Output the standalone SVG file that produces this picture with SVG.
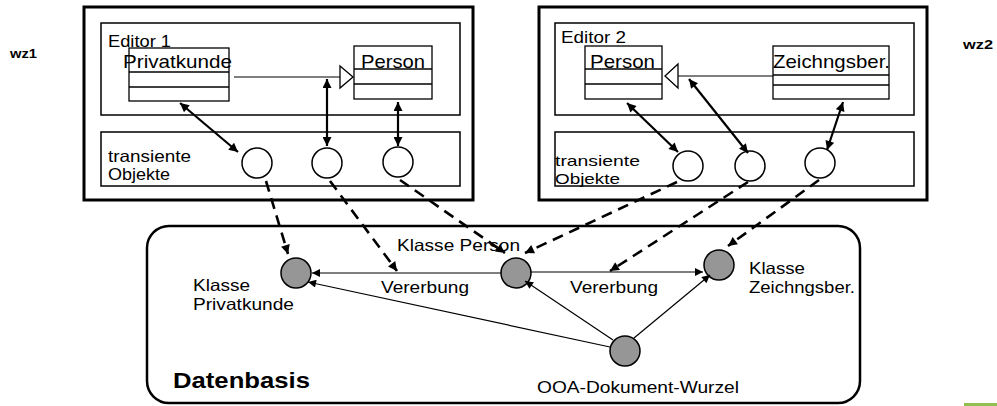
<svg xmlns="http://www.w3.org/2000/svg" width="997" height="406" viewBox="0 0 997 406">
<style>
text{font-family:"Liberation Sans",Arial,sans-serif;fill:#000}
.lbl{font-size:16.5px}
.sm{font-size:15px}
.cls{font-size:19px}
.b{font-weight:bold}
.outer{fill:none;stroke:#000;stroke-width:3}
.box{fill:none;stroke:#000;stroke-width:1.5}
.cbox{fill:none;stroke:#000;stroke-width:1.3}
.tobj{fill:#fff;stroke:#000;stroke-width:1.5}
.node{fill:#969696;stroke:#000;stroke-width:1.5}
.dbl{stroke:#000;stroke-width:2.2;fill:none;marker-start:url(#ah);marker-end:url(#ah)}
.dash{stroke:#000;stroke-width:2.6;fill:none;stroke-dasharray:11 7;marker-end:url(#ah)}
.thin{stroke:#000;stroke-width:1.2;fill:none;marker-end:url(#ahs)}
.inh{stroke:#000;stroke-width:1.2;fill:none}
.tri{fill:#fff;stroke:#000;stroke-width:1.3}
</style>
<defs>
<marker id="ah" viewBox="0 0 10 10" refX="10" refY="5" markerWidth="11" markerHeight="9" markerUnits="userSpaceOnUse" orient="auto-start-reverse">
<path d="M0,0 L10,5 L0,10 z" fill="#000"/>
</marker>
<marker id="ahs" viewBox="0 0 10 10" refX="10" refY="5" markerWidth="10" markerHeight="8" markerUnits="userSpaceOnUse" orient="auto">
<path d="M0,0 L10,5 L0,10 z" fill="#000"/>
</marker>
</defs>
<rect width="997" height="406" fill="#fff"/>

<text class="b" x="10" y="58" font-size="13.5" textLength="27" lengthAdjust="spacingAndGlyphs">wz1</text>
<text class="b" x="963" y="49" font-size="13.5" textLength="30" lengthAdjust="spacingAndGlyphs">wz2</text>

<g id="wz1">
<rect class="outer" x="84" y="7" width="389" height="193"/>
<g id="editor1">
<rect class="box" x="101" y="23" width="359" height="92"/>
<text class="lbl" x="108" y="47" textLength="63" lengthAdjust="spacingAndGlyphs">Editor 1</text>
</g>
<g id="e1-privatkunde">
<rect class="cbox" x="129" y="48" width="100" height="53"/>
<line class="cbox" x1="129" y1="72" x2="229" y2="72"/>
<line class="cbox" x1="129" y1="87" x2="229" y2="87"/>
<text class="cls" x="123" y="68" textLength="109" lengthAdjust="spacingAndGlyphs">Privatkunde</text>
</g>
<g id="e1-person">
<rect class="cbox" x="354" y="46" width="78" height="53"/>
<line class="cbox" x1="354" y1="69" x2="432" y2="69"/>
<line class="cbox" x1="354" y1="84" x2="432" y2="84"/>
<text class="cls" x="361" y="68" textLength="64" lengthAdjust="spacingAndGlyphs">Person</text>
</g>
<g id="transient1">
<rect class="box" x="101" y="132" width="359" height="54"/>
<text class="lbl" x="108" y="162" textLength="83" lengthAdjust="spacingAndGlyphs">transiente</text>
<text class="lbl" x="108" y="180" textLength="62" lengthAdjust="spacingAndGlyphs">Objekte</text>
</g>
<g id="t1a"><circle class="tobj" cx="257" cy="163" r="15"/></g>
<g id="t1b"><circle class="tobj" cx="327" cy="163" r="15"/></g>
<g id="t1c"><circle class="tobj" cx="398" cy="162" r="15"/></g>
</g>

<g id="wz2">
<rect class="outer" x="539" y="7" width="388" height="193"/>
<g id="editor2">
<rect class="box" x="555" y="23" width="359" height="92"/>
<text class="lbl" x="561" y="43" textLength="65" lengthAdjust="spacingAndGlyphs">Editor 2</text>
</g>
<g id="e2-person">
<rect class="cbox" x="585" y="46" width="77" height="53"/>
<line class="cbox" x1="585" y1="69" x2="662" y2="69"/>
<line class="cbox" x1="585" y1="84" x2="662" y2="84"/>
<text class="cls" x="590" y="68" textLength="65" lengthAdjust="spacingAndGlyphs">Person</text>
</g>
<g id="e2-zeichngsber">
<rect class="cbox" x="773" y="46" width="116" height="53"/>
<line class="cbox" x1="773" y1="75" x2="889" y2="75"/>
<line class="cbox" x1="773" y1="85" x2="889" y2="85"/>
<text class="cls" x="773" y="68" textLength="117" lengthAdjust="spacingAndGlyphs">Zeichngsber.</text>
</g>
<g id="transient2">
<rect class="box" x="555" y="132" width="359" height="54"/>
<text class="sm" x="555" y="166" textLength="85" lengthAdjust="spacingAndGlyphs">transiente</text>
<text class="sm" x="555" y="184" textLength="65" lengthAdjust="spacingAndGlyphs">Objekte</text>
</g>
<g id="t2a"><circle class="tobj" cx="688" cy="166" r="15"/></g>
<g id="t2b"><circle class="tobj" cx="750" cy="166" r="15"/></g>
<g id="t2c"><circle class="tobj" cx="820" cy="163" r="15"/></g>
</g>

<g id="datenbasis">
<rect x="147" y="226" width="713" height="177" rx="22" fill="none" stroke="#000" stroke-width="2.5"/>
<text class="b" x="173" y="388" font-size="22" textLength="137" lengthAdjust="spacingAndGlyphs">Datenbasis</text>
</g>
<g id="k-privatkunde">
<circle class="node" cx="296" cy="273" r="15"/>
<text class="lbl" x="193" y="291" textLength="57" lengthAdjust="spacingAndGlyphs">Klasse</text>
<text class="lbl" x="193" y="310" textLength="101" lengthAdjust="spacingAndGlyphs">Privatkunde</text>
</g>
<g id="k-person">
<circle class="node" cx="516" cy="273" r="15"/>
<text class="lbl" x="397" y="251" textLength="123" lengthAdjust="spacingAndGlyphs">Klasse Person</text>
</g>
<g id="k-zeichngsber">
<circle class="node" cx="719" cy="265" r="15"/>
<text class="lbl" x="749" y="274" textLength="56" lengthAdjust="spacingAndGlyphs">Klasse</text>
<text class="lbl" x="749" y="293" textLength="106" lengthAdjust="spacingAndGlyphs">Zeichngsber.</text>
</g>
<g id="root">
<circle class="node" cx="625" cy="351" r="15"/>
<text class="lbl" x="537" y="393" textLength="202" lengthAdjust="spacingAndGlyphs">OOA-Dokument-Wurzel</text>
</g>

<g id="connectors">
<line class="inh" x1="234" y1="77" x2="340" y2="77"/>
<path class="tri" d="M340,66 L353,77 L340,88 z"/>
<line class="inh" x1="773" y1="76" x2="678" y2="76"/>
<path class="tri" d="M678,64 L665,76 L678,88 z"/>

<line class="dbl" x1="180" y1="103" x2="238" y2="152"/>
<line class="dbl" x1="327" y1="79" x2="327" y2="146"/>
<line class="dbl" x1="398" y1="102" x2="398" y2="146"/>
<line class="dbl" x1="627" y1="103" x2="678" y2="152"/>
<line class="dbl" x1="689" y1="79" x2="748" y2="153"/>
<line class="dbl" x1="843" y1="102" x2="827" y2="150"/>

<line class="dash" x1="266" y1="181" x2="288" y2="254"/>
<line class="dash" x1="330" y1="181" x2="397" y2="271"/>
<line class="dash" x1="400" y1="180" x2="505" y2="253"/>
<line class="dash" x1="677" y1="182" x2="525" y2="253"/>
<line class="dash" x1="748" y1="182" x2="610" y2="271"/>
<line class="dash" x1="819" y1="180" x2="728" y2="246"/>

<line class="thin" x1="501" y1="273" x2="312" y2="273"/>
<text class="lbl" x="381" y="293" textLength="88" lengthAdjust="spacingAndGlyphs">Vererbung</text>
<line class="thin" x1="531" y1="272" x2="703" y2="272"/>
<text class="lbl" x="570" y="293" textLength="88" lengthAdjust="spacingAndGlyphs">Vererbung</text>
<line class="thin" x1="610" y1="347" x2="308" y2="282"/>
<line class="thin" x1="613" y1="340" x2="525" y2="281"/>
<line class="thin" x1="634" y1="338" x2="710" y2="275"/>
</g>

<rect x="964" y="403" width="33" height="3" fill="#92c050"/>
</svg>
